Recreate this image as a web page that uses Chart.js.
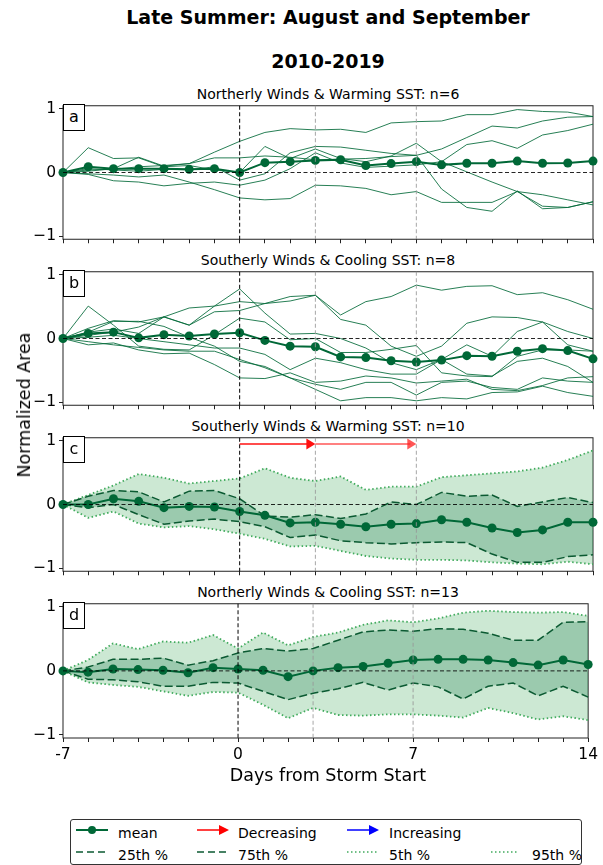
<!DOCTYPE html>
<html lang="en">
<head>
<meta charset="UTF-8">
<title>Late Summer: August and September</title>
<script src="https://cdn.jsdelivr.net/npm/chart.js"></script>
<style>
  body { margin: 0; background: #fff; font-family: 'DejaVu Sans', sans-serif; color: #000; }
  #fig { position: relative; width: 603px; height: 865px; overflow: hidden; }
  canvas { position: absolute; left: 0; }
  .txt { position: absolute; left: 63px; width: 530px; text-align: center; line-height: 1; white-space: nowrap; }
  .main { font-size: 19px; font-weight: bold; }
  .ptitle { font-size: 14px; }
  .letter { position: absolute; left: 63px; width: 20px; height: 25px; background: #fff; border: 1px solid #000;
            font-size: 16px; line-height: 23px; text-align: center; z-index: 2; }
  #ylab { position: absolute; left: 24px; top: 405px; font-size: 17.5px; white-space: nowrap;
          transform: translate(-50%, -50%) rotate(-90deg); }
  #legend { position: absolute; left: 70px; top: 819px; width: 510px; height: 44px; border: 1px solid #333; border-radius: 3px; }
  .li { position: absolute; font-size: 14px; line-height: 1; white-space: nowrap; }
  .li svg { position: absolute; top: -2px; }
</style>
</head>
<body>
<div id="fig">
  <div class="txt main" style="top:8px">Late Summer: August and September</div>
  <div class="txt main" style="top:52px">2010-2019</div>

  <div class="txt ptitle" style="top:87px">Northerly Winds &amp; Warming SST: n=6</div>
  <div class="txt ptitle" style="top:253px">Southerly Winds &amp; Cooling SST: n=8</div>
  <div class="txt ptitle" style="top:419px">Southerly Winds &amp; Warming SST: n=10</div>
  <div class="txt ptitle" style="top:585px">Northerly Winds &amp; Cooling SST: n=13</div>

  <canvas id="ca" width="603" height="155" style="top:95px"></canvas>
  <canvas id="cb" width="603" height="155" style="top:261px"></canvas>
  <canvas id="cc" width="603" height="155" style="top:427px"></canvas>
  <canvas id="cd" width="603" height="175" style="top:593px"></canvas>

  <div class="letter" style="top:104px">a</div>
  <div class="letter" style="top:270px">b</div>
  <div class="letter" style="top:436px">c</div>
  <div class="letter" style="top:602px">d</div>

  <div id="ylab">Normalized Area</div>
  <div class="txt" style="top:767px; font-size:17.5px">Days from Storm Start</div>

  <div id="legend">
    <div class="li" style="left:5px; top:6px">
      <svg width="32" height="12"><line x1="0" y1="6" x2="32" y2="6" stroke="#006837" stroke-width="2"/><circle cx="16" cy="6" r="4" fill="#006837"/></svg>
      <span style="position:absolute; left:42px">mean</span>
    </div>
    <div class="li" style="left:126px; top:6px">
      <svg width="32" height="12"><line x1="0" y1="6" x2="24" y2="6" stroke="#ff0000" stroke-width="1.5"/><polygon points="22,1 32,6 22,11" fill="#ff0000"/></svg>
      <span style="position:absolute; left:41px">Decreasing</span>
    </div>
    <div class="li" style="left:276px; top:6px">
      <svg width="32" height="12"><line x1="0" y1="6" x2="24" y2="6" stroke="#0000ff" stroke-width="1.5"/><polygon points="22,1 32,6 22,11" fill="#0000ff"/></svg>
      <span style="position:absolute; left:42px">Increasing</span>
    </div>
    <div class="li" style="left:5px; top:28px">
      <svg width="32" height="12"><line x1="0" y1="6" x2="32" y2="6" stroke="#0b5a32" stroke-width="1.5" stroke-dasharray="7 4"/></svg>
      <span style="position:absolute; left:42px">25th %</span>
    </div>
    <div class="li" style="left:126px; top:28px">
      <svg width="32" height="12"><line x1="0" y1="6" x2="32" y2="6" stroke="#0b5a32" stroke-width="1.5" stroke-dasharray="7 4"/></svg>
      <span style="position:absolute; left:41px">75th %</span>
    </div>
    <div class="li" style="left:276px; top:28px">
      <svg width="32" height="12"><line x1="0" y1="6" x2="30" y2="6" stroke="#41ab5d" stroke-width="1.5" stroke-dasharray="1.5 2.5"/></svg>
      <span style="position:absolute; left:42px">5th %</span>
    </div>
    <div class="li" style="left:420px; top:28px">
      <svg width="30" height="12"><line x1="0" y1="6" x2="28" y2="6" stroke="#41ab5d" stroke-width="1.5" stroke-dasharray="1.5 2.5"/></svg>
      <span style="position:absolute; left:41px">95th %</span>
    </div>
  </div>
</div>

<script>
  // days relative to storm start
  const days = [-7, -6, -5, -4, -3, -2, -1, 0, 1, 2, 3, 4, 5, 6, 7, 8, 9, 10, 11, 12, 13, 14];
  const xTickLabels = [-7, 0, 7, 14];
  const yTickValues = [-1, 0, 1];
  const refDays = [0, 3, 7];

  // (a) Northerly winds & warming SST, n=6
  const aMean = [0, 0.09, 0.06, 0.06, 0.06, 0.05, 0.06, 0.0, 0.155, 0.17, 0.19, 0.20, 0.11, 0.14, 0.17, 0.12, 0.145, 0.145, 0.18, 0.145, 0.15, 0.18];
  const aMembers = [
    [0, 0.04, 0.05, 0.09, 0.11, 0.14, 0.32, 0.49, 0.63, 0.69, 0.67, 0.68, 0.63, 0.78, 0.80, 0.81, 0.91, 0.91, 0.99, 0.96, 0.95, 0.88],
    [0, 0.02, 0.06, 0.24, 0.10, 0.14, 0.23, 0.23, 0.26, 0.24, 0.20, 0.21, 0.22, 0.25, 0.27, 0.37, 0.55, 0.73, 0.70, 0.81, 0.87, 0.88],
    [0, -0.03, -0.13, -0.15, -0.21, -0.17, -0.15, -0.20, -0.12, 0.06, 0.31, 0.15, 0.08, 0.10, 0.12, 0.17, 0.44, 0.50, 0.38, 0.59, 0.66, 0.76],
    [0, 0.39, 0.22, 0.23, 0.09, 0.11, 0.04, 0.0, 0.41, 0.22, 0.37, 0.22, 0.17, 0.26, 0.46, 0.17, 0.01, -0.15, -0.30, -0.53, -0.55, -0.46],
    [0, -0.02, -0.04, -0.07, -0.04, -0.15, -0.27, -0.40, -0.43, -0.41, -0.20, -0.21, -0.25, -0.35, -0.30, -0.47, -0.47, -0.47, -0.30, -0.35, -0.43, -0.51],
    [0, 0.06, 0.04, 0.02, 0.05, 0.04, 0.09, -0.12, -0.02, 0.31, 0.41, 0.40, 0.35, 0.30, 0.27, -0.26, -0.55, -0.61, -0.29, -0.57, -0.55, -0.46]
  ];

  // (b) Southerly winds & cooling SST, n=8
  const bMean = [0, 0.08, 0.10, 0.01, 0.06, 0.04, 0.07, 0.09, -0.03, -0.12, -0.13, -0.29, -0.30, -0.35, -0.37, -0.34, -0.27, -0.28, -0.20, -0.16, -0.19, -0.32];
  const bMembers = [
    [0, 0.05, 0.10, 0.18, 0.34, 0.48, 0.51, 0.58, 0.55, 0.66, 0.68, 0.37, 0.58, 0.66, 0.84, 0.76, 0.82, 0.83, 0.69, 0.72, 0.61, 0.46],
    [0, 0.16, 0.28, 0.26, 0.34, 0.21, 0.51, 0.78, 0.40, 0.07, 0.08, 0.0, -0.15, -0.38, -0.49, -0.33, -0.10, -0.28, 0.11, 0.26, -0.10, -0.20],
    [0, 0.51, 0.21, -0.12, -0.17, -0.18, 0.06, 0.32, 0.26, -0.02, 0.0, -0.22, -0.22, -0.17, -0.11, -0.54, -0.59, -0.60, -0.28, -0.18, -0.18, -0.20],
    [0, -0.10, -0.07, -0.18, -0.24, -0.23, -0.41, -0.62, -0.63, -0.54, -0.69, -0.67, -0.59, -0.62, -0.70, -0.67, -0.64, -0.80, -0.82, -0.74, -0.62, -0.60],
    [0, -0.05, -0.10, -0.14, -0.18, -0.20, -0.20, -0.33, -0.46, -0.62, -0.80, -0.98, -0.93, -0.93, -0.98, -0.93, -0.95, -0.85, -0.84, -0.75, -0.85, -0.91],
    [0, 0.10, 0.27, 0.27, 0.19, 0.02, -0.12, -0.36, -0.44, -0.62, -0.72, -0.80, -0.69, -0.69, -0.89, -0.69, -0.67, -0.77, -0.80, -0.62, -0.67, -0.69],
    [0, 0.10, 0.15, 0.08, 0.34, 0.21, 0.42, 0.44, 0.55, 0.59, 0.68, 0.30, 0.21, -0.12, -0.28, -0.12, 0.24, 0.34, 0.33, 0.26, 0.11, 0.0],
    [0, 0.02, 0.05, 0.0, -0.05, -0.10, -0.15, -0.15, -0.25, -0.49, -0.31, -0.38, -0.49, -0.56, -0.56, -0.33, -0.56, -0.59, -0.36, -0.31, -0.44, -0.69]
  ];

  // (c) Southerly winds & warming SST, n=10
  const cMean = [0, 0, 0.09, 0.05, -0.05, -0.03, -0.04, -0.11, -0.17, -0.29, -0.28, -0.31, -0.35, -0.31, -0.30, -0.24, -0.28, -0.37, -0.44, -0.40, -0.28, -0.28];
  const cP25 = [0, -0.05, 0, -0.16, -0.31, -0.26, -0.23, -0.27, -0.35, -0.52, -0.48, -0.57, -0.60, -0.62, -0.60, -0.59, -0.60, -0.78, -0.91, -0.91, -0.82, -0.79];
  const cP75 = [0, 0.13, 0.22, 0.20, 0.04, 0.21, 0.22, 0.09, -0.18, -0.20, -0.16, -0.22, -0.15, 0.04, 0, 0.19, 0.13, 0.15, -0.03, 0.04, 0.11, 0.03];
  const cP5 = [0, -0.21, -0.11, -0.30, -0.36, -0.34, -0.39, -0.46, -0.54, -0.66, -0.65, -0.73, -0.81, -0.85, -0.87, -0.87, -0.88, -0.91, -0.93, -0.94, -0.90, -0.94];
  const cP95 = [0, 0.15, 0.30, 0.48, 0.42, 0.33, 0.37, 0.41, 0.57, 0.42, 0.37, 0.44, 0.23, 0.28, 0.28, 0.43, 0.46, 0.49, 0.52, 0.58, 0.70, 0.85];
  const cArrowFrom = [0, 3];
  const cArrowTo = [3, 7];
  const cArrowLevel = 0.95;

  // (d) Northerly winds & cooling SST, n=13
  const dMean = [0, -0.02, 0.03, 0.02, 0.01, -0.03, 0.05, 0.03, 0.01, -0.09, 0, 0.05, 0.07, 0.12, 0.17, 0.18, 0.18, 0.17, 0.13, 0.09, 0.17, 0.10];
  const dP25 = [0, -0.13, -0.14, -0.17, -0.24, -0.24, -0.18, -0.19, -0.32, -0.45, -0.35, -0.28, -0.18, -0.30, -0.19, -0.25, -0.44, -0.24, -0.19, -0.39, -0.24, -0.41];
  const dP75 = [0, 0.06, 0.18, 0.18, 0.20, 0.09, 0.16, 0.28, 0.35, 0.31, 0.35, 0.48, 0.61, 0.64, 0.62, 0.66, 0.65, 0.59, 0.48, 0.48, 0.76, 0.77];
  const dP5 = [0, -0.18, -0.22, -0.25, -0.32, -0.39, -0.33, -0.34, -0.53, -0.74, -0.58, -0.69, -0.70, -0.68, -0.68, -0.70, -0.73, -0.58, -0.66, -0.76, -0.71, -0.77];
  const dP95 = [0, 0.17, 0.43, 0.34, 0.46, 0.44, 0.56, 0.35, 0.60, 0.40, 0.53, 0.60, 0.72, 0.79, 0.76, 0.82, 0.91, 0.94, 0.92, 0.91, 0.92, 0.86];

  const GREEN = '#006837';
  const family = "'DejaVu Sans', sans-serif";
  Chart.defaults.font.family = family;
  Chart.defaults.color = '#000';
  Chart.defaults.animation = false;

  const pts = arr => arr.map((v, i) => ({ x: days[i], y: v }));

  const meanDs = arr => ({
    data: pts(arr), borderColor: GREEN, borderWidth: 2, pointRadius: 4.5,
    pointBackgroundColor: GREEN, pointBorderColor: GREEN, pointBorderWidth: 0, fill: false, clip: false
  });
  const memberDs = arr => ({
    data: pts(arr), borderColor: 'rgba(0,104,55,0.85)', borderWidth: 1, pointRadius: 0, fill: false, clip: false
  });
  const dashDs = (arr, fill) => ({
    data: pts(arr), borderColor: '#0b5a32', borderWidth: 1.5, borderDash: [8, 3.5], pointRadius: 0,
    fill: fill ? '-1' : false, backgroundColor: 'rgba(0,104,55,0.24)', clip: false
  });
  const dotDs = (arr, fill) => ({
    data: pts(arr), borderColor: '#41ab5d', borderWidth: 1.8, borderDash: [1.5, 2.5], pointRadius: 0,
    fill: fill ? '-1' : false, backgroundColor: 'rgba(65,171,93,0.27)', clip: false
  });

  // frame, reference lines and arrows
  const refPlugin = {
    id: 'refs',
    beforeDatasetsDraw(chart) {
      const { ctx, chartArea: a } = chart;
      ctx.save();
      ctx.strokeStyle = '#222';
      ctx.lineWidth = 1;
      ctx.strokeRect(a.left, a.top, a.right - a.left, a.bottom - a.top);
      ctx.restore();
    },
    afterDatasetsDraw(chart, args, opts) {
      const { ctx, chartArea: a, scales: { x, y } } = chart;
      ctx.save();
      ctx.lineWidth = 1;
      ctx.setLineDash([4, 2.5]);
      refDays.forEach((d, i) => {
        const px = x.getPixelForValue(d);
        ctx.strokeStyle = i === 0 ? '#000' : 'rgba(150,150,150,0.85)';
        ctx.beginPath(); ctx.moveTo(px, a.top); ctx.lineTo(px, a.bottom); ctx.stroke();
      });
      const py = y.getPixelForValue(0);
      ctx.strokeStyle = 'rgba(0,0,0,0.85)';
      ctx.beginPath(); ctx.moveTo(a.left, py); ctx.lineTo(a.right, py); ctx.stroke();
      ctx.setLineDash([]);
      (opts.arrows || []).forEach(ar => {
        const x0 = x.getPixelForValue(ar.from), x1 = x.getPixelForValue(ar.to), yy = y.getPixelForValue(ar.level);
        ctx.strokeStyle = ar.color; ctx.fillStyle = ar.color; ctx.lineWidth = 1.5;
        ctx.beginPath(); ctx.moveTo(x0, yy); ctx.lineTo(x1 - 6, yy); ctx.stroke();
        ctx.beginPath(); ctx.moveTo(x1, yy); ctx.lineTo(x1 - 9, yy - 5.5); ctx.lineTo(x1 - 9, yy + 5.5); ctx.closePath(); ctx.fill();
      });
      ctx.restore();
    }
  };

  function makePanel(id, datasets, showX, arrows) {
    const xH = showX ? 30 : 6;
    return new Chart(document.getElementById(id), {
      type: 'line',
      data: { datasets },
      plugins: [refPlugin],
      options: {
        responsive: false,
        maintainAspectRatio: false,
        layout: { padding: { top: 10, right: 10, bottom: showX ? 0 : 4, left: 0 } },
        plugins: { legend: { display: false }, tooltip: { enabled: false }, refs: { arrows } },
        elements: { line: { tension: 0 } },
        scales: {
          x: {
            type: 'linear', min: -7, max: 14,
            afterBuildTicks: s => { s.ticks = days.map(v => ({ value: v })); },
            afterFit: s => { s.height = xH; },
            ticks: {
              autoSkip: false, maxRotation: 0, padding: 5, color: '#000',
              font: { size: 15.5, lineHeight: 1 },
              callback: v => (showX && xTickLabels.includes(v)) ? String(v) : ''
            },
            grid: { drawOnChartArea: false, drawTicks: true, tickLength: 4, color: '#222' },
            border: { display: false }
          },
          y: {
            type: 'linear', min: -1.05, max: 1.05,
            afterBuildTicks: s => { s.ticks = yTickValues.map(v => ({ value: v })); },
            afterFit: s => { s.width = 63; },
            ticks: {
              padding: 3, color: '#000', font: { size: 15.5, lineHeight: 1 },
              callback: v => v < 0 ? '\u2212' + Math.abs(v) : String(v)
            },
            grid: { drawOnChartArea: false, drawTicks: true, tickLength: 4, color: '#222' },
            border: { display: false }
          }
        }
      }
    });
  }

  makePanel('ca', [meanDs(aMean), ...aMembers.map(memberDs)], false, []);
  makePanel('cb', [meanDs(bMean), ...bMembers.map(memberDs)], false, []);
  makePanel('cc', [meanDs(cMean), dashDs(cP25), dashDs(cP75, true), dotDs(cP5), dotDs(cP95, true)], false,
    cArrowFrom.map((f, i) => ({ from: f, to: cArrowTo[i], level: cArrowLevel,
      color: i === 0 ? '#ff1010' : 'rgba(255,30,30,0.75)' })));
  makePanel('cd', [meanDs(dMean), dashDs(dP25), dashDs(dP75, true), dotDs(dP5), dotDs(dP95, true)], true, []);
</script>
</body>
</html>
